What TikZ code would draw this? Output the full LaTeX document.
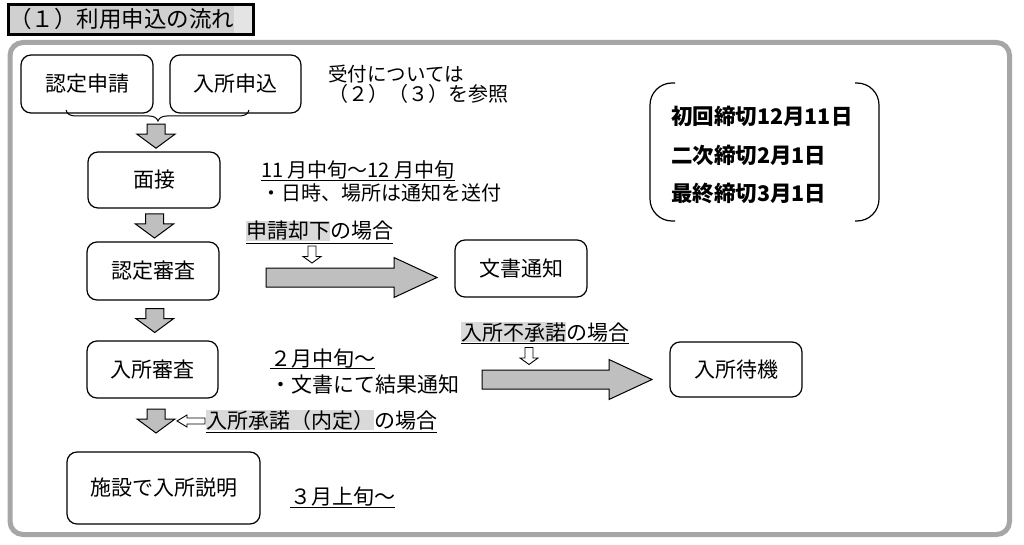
\documentclass[tikz,border=0pt]{standalone}
\usepackage{fontspec}
\setmainfont{Noto Sans CJK JP}
\usetikzlibrary{calc}
\definecolor{framegray}{HTML}{A6A6A6}
\definecolor{arrowgray}{HTML}{BFBFBF}
\definecolor{hlgray}{HTML}{D9D9D9}
\definecolor{titlegray}{HTML}{D0D0D0}
\definecolor{titlelight}{HTML}{E4E4E4}
\newcommand\fs[1]{\fontsize{#1pt}{#1pt}\selectfont}
\newcommand\hlbox[1]{{\setlength{\fboxsep}{0pt}\colorbox{hlgray}{#1}}}
\newcommand\rightblk[2]{\draw[blkarrow] let \p1=(#1), \p2=(#2) in (\x1,\y1+9.5pt) -- (\x2-43pt,\y1+9.5pt) -- (\x2-43pt,\y1+20pt) -- (\x2,\y1) -- (\x2-43pt,\y1-20pt) -- (\x2-43pt,\y1-9.5pt) -- (\x1,\y1-9.5pt) -- cycle;}
\begin{document}
\begin{tikzpicture}[x=1pt,y=-1pt,
 flowbox/.style={draw=black, line width=1.2pt, rounded corners=10pt, fill=white, inner sep=0pt, font=\fs{21}},
 blkarrow/.style={draw=black, line width=1pt, fill=arrowgray, line join=miter},
 hollow/.style={draw=black, line width=0.9pt, fill=white},
 txt/.style={anchor=base west, inner sep=0pt, font=\fs{20}},
 uline/.style={line width=0.9pt},
 pics/downblk/.style={code={\draw[blkarrow] (-9,-12) -- (9,-12) -- (9,-2) -- (19,-2) -- (0,12) -- (-19,-2) -- (-9,-2) -- cycle;}},
 pics/hollowdown/.style={code={\draw[hollow] (-4,-8.5) -- (4,-8.5) -- (4,2) -- (9,2) -- (0,8.5) -- (-9,2) -- (-4,2) -- cycle;}},
]
\path[fill=white] (0,0) rectangle (1024,545);
\useasboundingbox (0,0) rectangle (1024,545);

% title
\fill[titlelight] (8.5,4.5) rectangle (253.5,34.5);
\fill[titlegray] (8.5,4.5) rectangle (234,34.5);
\node[anchor=base west, inner sep=0pt, font=\fs{22.5}] (title) at (9,28) {（１）利用申込の流れ};
\draw[line width=3pt] (8.5,4.5) rectangle (253.5,34.5);

% frame
\draw[framegray, line width=5pt, rounded corners=13pt] (10,42.5) rectangle (1009.5,534.5);

% boxes
\node[flowbox, minimum width=132pt, minimum height=58pt] (nintei) at (87,84) {認定申請};
\node[flowbox, minimum width=131pt, minimum height=58pt] (nyusho) at (235.5,84) {入所申込};
\node[flowbox, minimum width=132pt, minimum height=56pt] (mensetsu) at (154,180) {面接};
\node[flowbox, minimum width=132pt, minimum height=58pt] (shinsa1) at (153,271) {認定審査};
\node[flowbox, minimum width=131pt, minimum height=57pt] (shinsa2) at (152.5,369.5) {入所審査};
\node[flowbox, minimum width=193pt, minimum height=72pt] (setsumei) at (163.5,488) {施設で入所説明};
\node[flowbox, minimum width=132pt, minimum height=57pt] (bunsho) at (521,268.5) {文書通知};
\node[flowbox, minimum width=132pt, minimum height=55pt] (taiki) at (736,369.5) {入所待機};

% brace
\coordinate (bt) at (158,121);
\draw[line width=1pt] (66,110) .. controls (67,114) and (70,116) .. (76,116) -- (149,116) .. controls (154,116) and (157,118) .. (bt) .. controls (159,118) and (162,116) .. (167,116) -- (239,116) .. controls (245,116) and (248,114) .. (249,110);

% down block arrows
\pic at ($(bt)!0.5!(mensetsu.north)$) {downblk};
\pic at ($(mensetsu.south)!0.5!(shinsa1.north)+(1,1)$) {downblk};
\pic at ($(shinsa1.south)!0.5!(shinsa2.north)+(2,0)$) {downblk};
\pic at ($(shinsa2.south)!0.5!(setsumei.north)+(-2,-4)$) {downblk};

% right block arrows
\coordinate (a1s) at (266,277.5);
\coordinate (a1e) at (437,277.5);
\coordinate (a2s) at (482,379.5);
\coordinate (a2e) at (652,379.5);
\rightblk{a1s}{a1e}
\rightblk{a2s}{a2e}

% labels with highlight
\node[txt, font=\fs{21}] (l1) at (246,239) {\hlbox{申請却下}の場合};
\draw[uline] ([yshift=-4pt]l1.base west) -- ([yshift=-4pt]l1.base east);
\node[txt, font=\fs{21}] (l2) at (461,340) {\hlbox{入所不承諾}の場合};
\draw[uline] ([yshift=-3pt]l2.base west) -- ([yshift=-3pt]l2.base east);
\node[txt, font=\fs{21}] (l3) at (206,428) {\hlbox{入所承諾（内定）}の場合};
\draw[uline] ([yshift=-4pt]l3.base west) -- ([yshift=-4pt]l3.base east);

% hollow arrows
\pic at (312,254.5) {hollowdown};
\pic at (529,356) {hollowdown};
\draw[hollow] (177,421) -- (187,415) -- (187,418) -- (205,418) -- (205,424) -- (187,424) -- (187,427) -- cycle;

% side texts
\node[txt] (d1) at (261,178) {11 月中旬～12 月中旬};
\draw[uline] ([yshift=-2pt]d1.base west) -- ([yshift=-2pt]d1.base east);
\node[txt] (d1b) at (261,201) {・日時、場所は通知を送付};
\node[txt, font=\fs{21}] (d2) at (270,366) {２月中旬～};
\draw[uline] ([yshift=-2pt]d2.base west) -- ([yshift=-2pt]d2.base east);
\node[txt, font=\fs{21}] (d2b) at (270,392) {・文書にて結果通知};
\node[txt, font=\fs{21}] (d3) at (290,504) {３月上旬～};
\draw[uline] ([yshift=-3pt]d3.base west) -- ([yshift=-3pt]d3.base east);
\node[txt, font=\fs{19.5}] (u1) at (328,82) {受付については};
\node[txt, font=\fs{20}] (u2) at (328,102) {（２）（３）を参照};

% deadlines
\node[txt, font={\fs{21.5}\bfseries}] (k1) at (671,125) {初回締切12月11日};
\node[txt, font={\fs{21.5}\bfseries}] (k2) at (671,163.5) {二次締切2月1日};
\node[txt, font={\fs{21.5}\bfseries}] (k3) at (671,202) {最終締切3月1日};
\draw[line width=1.2pt, rounded corners=22pt] (675,83) -- (650,83) -- (650,221) -- (675,221);
\draw[line width=1.2pt, rounded corners=22pt] (855,83) -- (879,83) -- (879,221) -- (855,221);
\end{tikzpicture}
\end{document}
